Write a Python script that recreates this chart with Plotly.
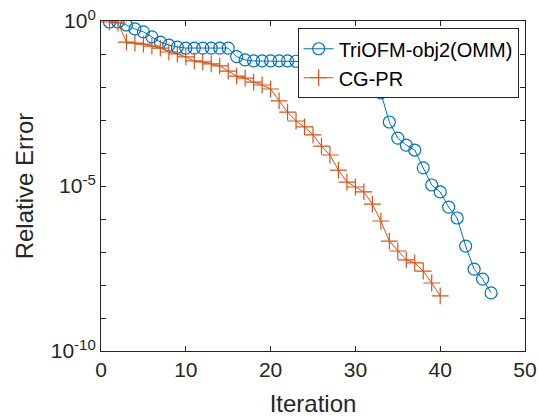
import plotly.graph_objects as go

iter_tri = list(range(1, 47))
log_err_tri = [-0.03, -0.03, -0.12, -0.24, -0.33, -0.48, -0.64, -0.73, -0.79, -0.82,
               -0.82, -0.82, -0.82, -0.82, -0.82, -1.08, -1.18, -1.21, -1.21, -1.21,
               -1.21, -1.21, -1.22, -1.23, -1.25, -1.30, -1.40, -1.55, -1.75, -1.82,
               -1.88, -2.03, -2.18, -3.06, -3.55, -3.76, -3.91, -4.45, -4.97, -5.18,
               -5.64, -5.97, -6.82, -7.52, -7.82, -8.24]

iter_cg = list(range(1, 41))
log_err_cg = [-0.03, -0.06, -0.64, -0.67, -0.70, -0.76, -0.82, -0.94, -1.00, -1.09,
              -1.21, -1.24, -1.30, -1.36, -1.52, -1.67, -1.73, -1.85, -1.94, -2.06,
              -2.42, -2.76, -3.03, -3.21, -3.45, -3.79, -4.06, -4.52, -4.88, -5.03,
              -5.18, -5.55, -6.06, -6.67, -6.97, -7.24, -7.33, -7.58, -7.94, -8.33]

x_ticks = [0, 10, 20, 30, 40, 50]
y_major = [0, -5, -10]
y_major_text = [
    "10<sup><span style='font-size:15px'>0</span></sup>",
    "10<sup><span style='font-size:15px'>-5</span></sup>",
    "10<sup><span style='font-size:15px'>-10</span></sup>",
]
y_minor = [-1, -2, -3, -4, -6, -7, -8, -9]

err_tri = [10 ** v for v in log_err_tri]
err_cg = [10 ** v for v in log_err_cg]

BLUE = "#0072BD"
ORANGE = "#D95319"
AX = "#262626"
FONT = "Liberation Sans"

fig = go.Figure()
fig.add_trace(go.Scatter(
    x=iter_tri, y=err_tri, mode="lines+markers", name="TriOFM-obj2(OMM)",
    line=dict(color=BLUE, width=1),
    marker=dict(symbol="circle-open", size=12, color=BLUE, line=dict(width=1.2, color=BLUE)),
))
fig.add_trace(go.Scatter(
    x=iter_cg, y=err_cg, mode="lines+markers", name="CG-PR",
    line=dict(color=ORANGE, width=1),
    marker=dict(symbol="cross-thin-open", size=12, color=ORANGE, line=dict(width=1.2, color=ORANGE)),
))

fig.update_layout(
    width=539, height=420,
    margin=dict(l=101, r=14, t=21, b=69),
    paper_bgcolor="white", plot_bgcolor="white",
    font=dict(family=FONT, color=AX, size=21),
    showlegend=True,
    legend=dict(
        x=0.985, y=0.978, xanchor="right", yanchor="top",
        bgcolor="white", bordercolor=AX, borderwidth=1,
        font=dict(family=FONT, size=20, color="black"),
        tracegroupgap=0, itemwidth=30,
    ),
)
fig.update_xaxes(
    range=[0, 50], tickvals=x_ticks, ticktext=[str(t) for t in x_ticks],
    ticks="inside", ticklen=5, tickcolor=AX, showline=True, linecolor=AX, linewidth=1,
    mirror="allticks", showgrid=False, zeroline=False, automargin=False,
    title=dict(text="Iteration", font=dict(size=24, family=FONT, color=AX), standoff=14),
    tickfont=dict(size=21, family=FONT, color=AX),
)
fig.update_yaxes(
    type="log", range=[-10, 0],
    tickvals=[10 ** d for d in y_major], ticktext=y_major_text,
    minor=dict(tickvals=[10 ** d for d in y_minor], ticks="inside", ticklen=5,
               tickcolor=AX, showgrid=False),
    ticks="inside", ticklen=5, tickcolor=AX, showline=True, linecolor=AX, linewidth=1,
    mirror="allticks", showgrid=False, zeroline=False, automargin=False,
    title=dict(text="Relative Error", font=dict(size=24, family=FONT, color=AX), standoff=10),
    tickfont=dict(size=21, family=FONT, color=AX),
)

fig.write_html("out.html")
